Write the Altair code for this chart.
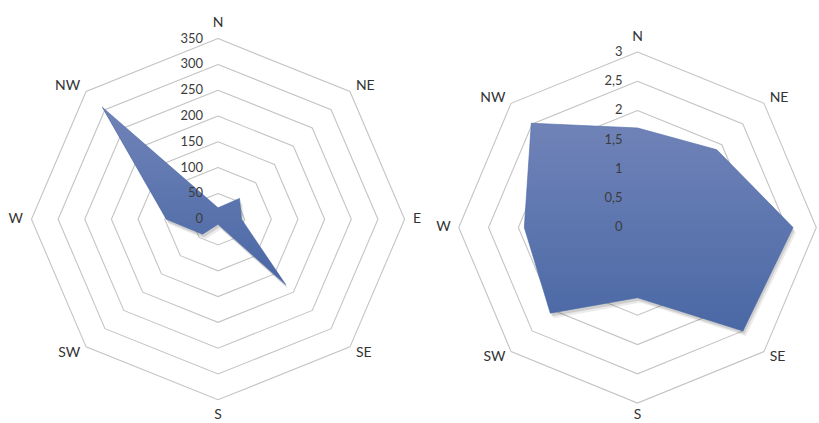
import altair as alt
import pandas as pd
import numpy as np

# ---- data ----
directions = ["N", "NE", "E", "SE", "S", "SW", "W", "NW"]
left_values = [22, 57, 44, 180, 10, 41, 97, 307]
right_values = [1.70, 1.88, 2.61, 2.50, 1.20, 2.07, 1.90, 2.52]
left_ticks = [0, 50, 100, 150, 200, 250, 300, 350]
left_tick_labels = ["0", "50", "100", "150", "200", "250", "300", "350"]
right_ticks = [0, 0.5, 1, 1.5, 2, 2.5, 3]
right_tick_labels = ["0", "0,5", "1", "1,5", "2", "2,5", "3"]

ANGLES = [np.deg2rad(90 - 45 * i) for i in range(len(directions))]
GAP = 0.045
FONT = "Lato"


def polygon_df(values, rmax):
    rows = []
    n = len(directions)
    for k in range(n + 1):
        i = k % n
        r = values[i] / rmax
        rows.append({"x": r * np.cos(ANGLES[i]), "y": r * np.sin(ANGLES[i]), "o": k,
                     "dir": directions[i], "value": values[i]})
    return pd.DataFrame(rows)


def rings_df(ticks, rmax):
    rows = []
    n = len(directions)
    for t in ticks:
        if t == 0:
            continue
        r = t / rmax
        for k in range(n + 1):
            i = k % n
            rows.append({"x": r * np.cos(ANGLES[i]), "y": r * np.sin(ANGLES[i]), "o": k, "ring": t})
    return pd.DataFrame(rows)


def labels_df(xmax):
    rows = []
    for i, d in enumerate(directions):
        c, s = np.cos(ANGLES[i]), np.sin(ANGLES[i])
        x, y = (1 + GAP) * c, (1 + GAP) * s
        if x > xmax - 0.01:
            continue  # falls outside the picture in the reference
        if c > 0.1:
            g = "left"
        elif c < -0.1:
            g = "right"
        elif s > 0:
            g = "top"
        else:
            g = "bottom"
        rows.append({"x": x, "y": y, "label": d, "g": g})
    return pd.DataFrame(rows)


def ticks_df(ticks, labels, rmax):
    return pd.DataFrame({"x": [0.0] * len(ticks), "y": [t / rmax for t in ticks], "label": labels})


gradient = alt.Gradient(
    gradient="linear",
    stops=[alt.GradientStop(color="#7083b8", offset=0),
           alt.GradientStop(color="#4a68a5", offset=1)],
    x1=0, x2=0, y1=0, y2=1,
)


def panel(values, ticks, tlabels, xdom, ydom, w, h, bottom_dy=0):
    rmax = ticks[-1]
    X = alt.X("x:Q", scale=alt.Scale(domain=xdom, nice=False, zero=False), axis=None)
    Y = alt.Y("y:Q", scale=alt.Scale(domain=ydom, nice=False, zero=False), axis=None)
    poly = polygon_df(values, rmax)

    rings = alt.Chart(rings_df(ticks, rmax)).mark_line(
        color="#c4c4c4", strokeWidth=1.1
    ).encode(X, Y, detail="ring:N", order="o:Q")

    shadow1 = alt.Chart(poly).mark_line(
        fill="#000000", fillOpacity=0.08, strokeWidth=0, xOffset=3, yOffset=5
    ).encode(X, Y, order="o:Q")
    shadow2 = alt.Chart(poly).mark_line(
        fill="#000000", fillOpacity=0.12, strokeWidth=0, xOffset=1.5, yOffset=3
    ).encode(X, Y, order="o:Q")
    area = alt.Chart(poly).mark_line(
        fill=gradient, stroke="#4a68a5", strokeWidth=0.6
    ).encode(X, Y, order="o:Q")

    tick_text = alt.Chart(ticks_df(ticks, tlabels, rmax)).mark_text(
        align="right", baseline="middle", dx=-15, font=FONT, fontSize=13, color="#3c3c3c"
    ).encode(X, Y, text="label:N")

    lab = labels_df(xdom[1])
    label_layers = []
    specs = {
        "left": dict(align="left", baseline="middle"),
        "right": dict(align="right", baseline="middle"),
        "top": dict(align="center", baseline="bottom"),
        "bottom": dict(align="center", baseline="top", dy=bottom_dy),
    }
    for g, props in specs.items():
        label_layers.append(
            alt.Chart(lab).transform_filter(alt.datum.g == g).mark_text(
                font=FONT, fontSize=14, color="#333333", **props
            ).encode(X, Y, text="label:N")
        )

    return alt.layer(rings, shadow1, shadow2, area, tick_text, *label_layers).properties(
        width=w, height=h
    )


left = panel(left_values, left_ticks, left_tick_labels,
             [-1.1686, 1.0798], [-1.1272, 1.2124], 420, 423)
right = panel(right_values, right_ticks, right_tick_labels,
              [-1.2196, 1.0095], [-1.1121, 1.2941], 399, 423, bottom_dy=-3)

chart = alt.hconcat(left, right, spacing=0).properties(
    padding=0, bounds="flush", background="white"
).configure_view(strokeWidth=0, stroke="transparent")

chart.save("out.html", embed_options={"renderer": "svg", "actions": False})
